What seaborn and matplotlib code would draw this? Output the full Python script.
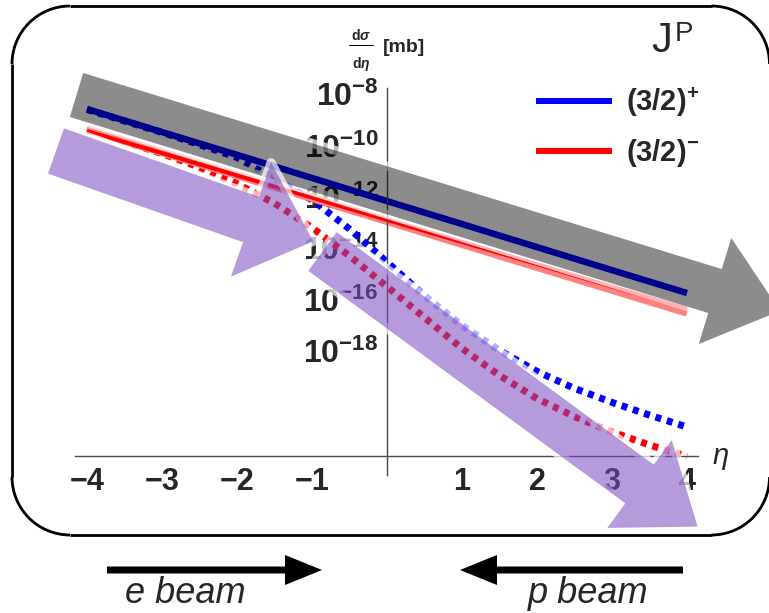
import numpy as np
import pandas as pd
import matplotlib
matplotlib.use("Agg")
import matplotlib.pyplot as plt
import seaborn as sns
from matplotlib.patches import Polygon, Arc, FancyArrow
from matplotlib.lines import Line2D
from matplotlib.ticker import FixedLocator, NullLocator

# ---------------------------------------------------------------- data
# pseudorapidity grids
eta_solid = [-4, -3, -2, -1, 0, 1, 2, 3, 4]
eta_dotted = [-4, -3.5, -3, -2.5, -2, -1.5, -1, -0.5, 0,
              0.5, 1, 1.5, 2, 2.5, 3, 3.5, 4]

# d(sigma)/d(eta) in mb, J^P = (3/2)^+ and (3/2)^-
plus_solid = [2.6e-9, 3.3e-10, 4.3e-11, 5.4e-12, 6.8e-13,
              8.7e-14, 1.1e-14, 1.4e-15, 1.8e-16]
minus_solid = [3.6e-10, 5.0e-11, 6.8e-12, 9.3e-13, 1.26e-13,
               1.74e-14, 2.4e-15, 3.2e-16, 4.5e-17]
# second (faint) evaluation of the (3/2)^- solid curve
minus_solid_alt = [4.2e-10, 5.4e-11, 6.9e-12, 8.9e-13, 1.14e-13,
                   1.45e-14, 1.86e-15, 2.4e-16, 3.1e-17]
plus_dotted = [2.5e-9, 8.9e-10, 3.2e-10, 1.07e-10, 3.4e-11, 5.0e-12,
               7.6e-13, 5.6e-14, 2.9e-15, 1.4e-16, 1.0e-17, 1.05e-18,
               1.6e-19, 3.5e-20, 1.0e-20, 3.2e-21, 1.1e-21]
minus_dotted = [4.2e-10, 1.4e-10, 4.8e-11, 1.4e-11, 3.2e-12, 5.6e-13,
                6.3e-14, 5.0e-15, 3.2e-16, 2.0e-17, 1.26e-18, 1.12e-19,
                1.4e-20, 2.8e-21, 7.1e-22, 2.2e-22, 7.9e-23]

series_labels = ["(3/2)$^{+}$", "(3/2)$^{-}$"]
series_colors = ["#0000ff", "#ff0000"]
faint_red = "#ff8080"

x_ticks = [-4, -3, -2, -1, 1, 2, 3, 4]
x_tick_labels = ["\u22124", "\u22123", "\u22122", "\u22121", "1", "2", "3", "4"]
y_ticks = [1e-8, 1e-10, 1e-12, 1e-14, 1e-16, 1e-18]
y_tick_labels = [r"$10^{-8}$", r"$10^{-10}$", r"$10^{-12}$",
                 r"$10^{-14}$", r"$10^{-16}$", r"$10^{-18}$"]

# ---------------------------------------------------------------- style
sns.set_style("white")
plt.rcParams["font.family"] = ["Liberation Sans", "DejaVu Sans"]
plt.rcParams["mathtext.fontset"] = "custom"
plt.rcParams["mathtext.rm"] = "Liberation Sans:bold"
plt.rcParams["mathtext.bf"] = "Liberation Sans:bold"
plt.rcParams["mathtext.it"] = "Liberation Sans:italic:bold"
plt.rcParams["mathtext.sf"] = "Liberation Sans:bold"

W, H = 769, 613
PX = 72 / 100  # points per pixel at dpi 100
fig = plt.figure(figsize=(W / 100, H / 100), dpi=100)
fig.patch.set_facecolor("white")

ax = fig.add_axes([75 / W, 1 - 475 / H, (698 - 75) / W, (475 - 88) / H])
ax.set_facecolor("none")

frames = []
for lab, vals in zip(series_labels, [plus_dotted, minus_dotted]):
    frames.append(pd.DataFrame({"eta": eta_dotted, "dsig": vals, "JP": lab}))
dotted = pd.concat(frames, ignore_index=True)
palette = dict(zip(series_labels, series_colors))

lw = 6 * PX
sns.lineplot(data=dotted, x="eta", y="dsig", hue="JP",
             palette=palette, linewidth=7 * PX, linestyle=(0, (0.85, 0.85)),
             estimator=None, sort=False, legend=False, ax=ax)
sns.lineplot(x=eta_solid, y=minus_solid_alt, color=faint_red, linewidth=8 * PX,
             estimator=None, sort=False, ax=ax)
sns.lineplot(x=eta_solid, y=minus_solid, color=series_colors[1], linewidth=4 * PX,
             estimator=None, sort=False, ax=ax)
sns.lineplot(x=eta_solid, y=plus_solid, color=series_colors[0], linewidth=6.5 * PX,
             estimator=None, sort=False, ax=ax)
for ln in ax.lines:
    ln.set_dash_capstyle("butt")
    ln.set_solid_capstyle("butt")

ax.set_yscale("log")
ax.set_xlim(-4.16, 4.147)
ax.set_ylim(10 ** -22.825, 10 ** -7.767)
ax.set_xlabel("")
ax.set_ylabel("")
axis_col = "#4a4a4a"
for side in ["top", "right"]:
    ax.spines[side].set_visible(False)
ax.spines["left"].set_position(("data", 0))
ax.spines["bottom"].set_position(("data", 10 ** -22.09))
for side in ["left", "bottom"]:
    ax.spines[side].set_color(axis_col)
    ax.spines[side].set_linewidth(1.4 * PX)
ax.xaxis.set_major_locator(FixedLocator(x_ticks))
ax.xaxis.set_minor_locator(NullLocator())
ax.set_xticklabels(x_tick_labels)
ax.yaxis.set_major_locator(FixedLocator(y_ticks))
ax.yaxis.set_minor_locator(NullLocator())
ax.set_yticklabels(y_tick_labels)
ax.tick_params(axis="both", direction="in", length=5 * PX, width=1.2 * PX,
               color=axis_col)
ax.tick_params(axis="x", pad=8, labelsize=22)
ax.tick_params(axis="y", pad=6, labelsize=23)
for t in ax.get_xticklabels():
    t.set_fontweight("bold")

# legend for the solid curves
handles = [Line2D([], [], color=c, lw=lw, solid_capstyle="butt") for c in series_colors]
fig.legend(handles, series_labels, loc="upper left",
           bbox_to_anchor=(536 / W, 1 - 86 / H), frameon=False,
           prop={"family": "Liberation Sans", "weight": "bold", "size": 21},
           handlelength=2.6, handletextpad=0.5, labelspacing=0.62,
           borderpad=0, borderaxespad=0)

# axis titles
fig.text(361 / W, 1 - 36 / H, r"d$\sigma$", fontsize=10, fontweight="bold",
         ha="center", va="center")
fig.text(361 / W, 1 - 64 / H, r"d$\eta$", fontsize=10, fontweight="bold",
         ha="center", va="center")
fig.text(383 / W, 1 - 48 / H, "[mb]", fontsize=14, fontweight="bold",
         ha="left", va="center")
fig.text(721 / W, 1 - 464 / H, "\u03b7", fontsize=21, style="italic",
         ha="center", va="baseline")

# ---------------------------------------------------------------- overlay
ov = fig.add_axes([0, 0, 1, 1], zorder=5)
ov.set_xlim(0, W)
ov.set_ylim(H, 0)
ov.set_axis_off()

ov.plot([349, 373], [45, 45], color="black", lw=1.0 * PX)


def arrow_shape(start, base, body_w, head_w, head_len):
    s = np.asarray(start, float)
    b = np.asarray(base, float)
    u = (b - s) / np.hypot(*(b - s))
    n = np.array([-u[1], u[0]])
    return np.array([s + n * body_w / 2, b + n * body_w / 2, b + n * head_w / 2,
                     b + u * head_len, b - n * head_w / 2, b - n * body_w / 2,
                     s - n * body_w / 2])


def big_arrow(pts, face, alpha):
    ov.add_patch(Polygon(pts, closed=True, fill=False, edgecolor="white",
                         lw=9 * PX, alpha=0.7, joinstyle="round"))
    ov.add_patch(Polygon(pts, closed=True, facecolor=face, edgecolor="none",
                         alpha=alpha))


purple = (120 / 255, 73 / 255, 191 / 255)
big_arrow(arrow_shape((76.5, 95), (715, 291), 46, 111, 68), "black", 0.45)
big_arrow(arrow_shape((56, 151), (251, 219.5), 48, 121, 66), purple, 0.55)
big_arrow(arrow_shape((322.5, 251.5), (639.5, 484), 48, 109, 72), purple, 0.55)

# rounded frame; its right side lies on the canvas border, so only the
# left, top and bottom sides and the four corners are stroked
fl, ft, fr, fb, rad = 12, 6, 769.5, 535, 58
frame_kw = dict(color="black", lw=2.8 * PX, solid_capstyle="butt")
ov.plot([fl + rad, fr - rad], [ft, ft], **frame_kw)
ov.plot([fl + rad, fr - rad], [fb, fb], **frame_kw)
ov.plot([fl, fl], [ft + rad, fb - rad], **frame_kw)
for cx, cy, t1, t2 in [(fl + rad, ft + rad, 180, 270), (fr - rad, ft + rad, 270, 360),
                       (fr - rad, fb - rad, 0, 90), (fl + rad, fb - rad, 90, 180)]:
    ov.add_patch(Arc((cx, cy), 2 * rad, 2 * rad, theta1=t1, theta2=t2,
                     color="black", lw=2.8 * PX))

# J^P title
ov.text(651, 21, "J", fontsize=30, ha="left", va="top")
ov.text(675, 21, "P", fontsize=20, ha="left", va="top")

# beam directions
ov.add_patch(FancyArrow(107, 570, 215, 0, width=7, head_width=30, head_length=37,
                        length_includes_head=True, color="black", lw=0))
ov.add_patch(FancyArrow(683, 570, -223, 0, width=7, head_width=30, head_length=37,
                        length_includes_head=True, color="black", lw=0))
ov.text(125, 603, "e beam", fontsize=26, style="italic", ha="left", va="baseline")
ov.text(528, 603, "p beam", fontsize=26, style="italic", ha="left", va="baseline")

fig.savefig("out.png", dpi=100, facecolor="white")
